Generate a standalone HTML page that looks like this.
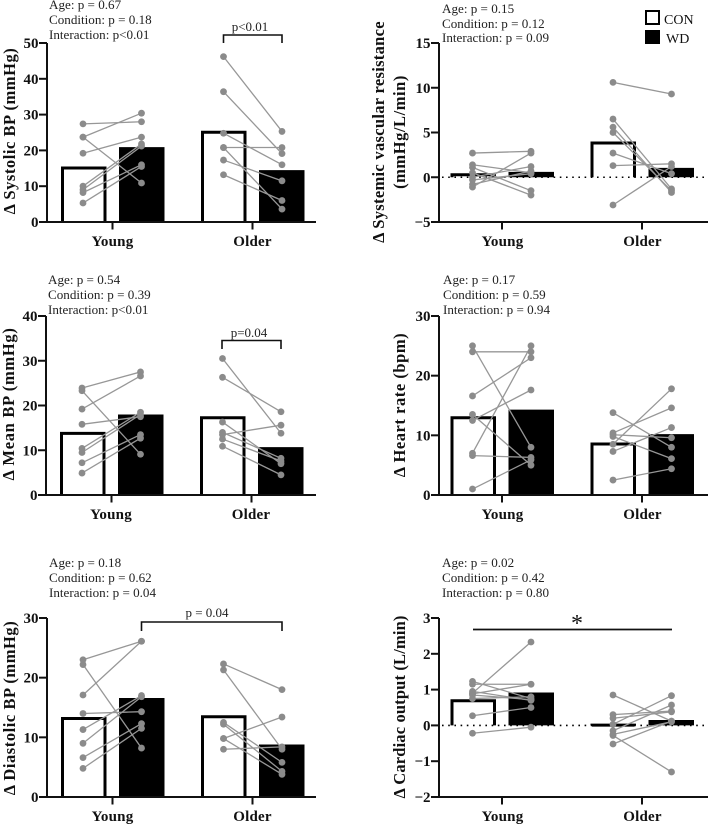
<!DOCTYPE html>
<html lang="en">
<head>
<meta charset="utf-8">
<title>Change in haemodynamics by age and condition</title>
<style>
html,body{margin:0;padding:0;background:#fff;}
svg{display:block;filter:blur(.3px);}
text{font-family:"Liberation Serif",serif;fill:#111;}
.note{font-size:13.1px;fill:#222;}
.ytitle{font-size:16.5px;font-weight:bold;text-anchor:middle;letter-spacing:.55px;}
.group{font-size:15px;font-weight:bold;text-anchor:middle;letter-spacing:.2px;}
.tick{font-size:15px;font-weight:bold;text-anchor:end;}
.sig{font-size:13px;text-anchor:middle;fill:#222;}
</style>
</head>
<body>
<svg id="figure" xmlns="http://www.w3.org/2000/svg" width="709" height="824" viewBox="0 0 709 824">
  <rect width="709" height="824" fill="#fff"/>

  <g id="panel-sbp">
    <text class="note" x="49" y="9">Age: p = 0.67</text>
    <text class="note" x="49" y="24">Condition: p = 0.18</text>
    <text class="note" x="49" y="39">Interaction: p&lt;0.01</text>
    <text class="ytitle" transform="translate(15,131) rotate(-90)">Δ Systolic BP (mmHg)</text>
    <text class="group" x="112.5" y="246">Young</text>
    <text class="group" x="252.5" y="246">Older</text>
    <path d="M223.5 43V35H282V43" fill="none" stroke="#111" stroke-width="1.6"/>
    <text class="sig" x="250" y="31">p&lt;0.01</text>
  </g>

  <g id="panel-svr">
    <text class="note" x="442" y="13">Age: p = 0.15</text>
    <text class="note" x="442" y="28">Condition: p = 0.12</text>
    <text class="note" x="442" y="42">Interaction: p = 0.09</text>
    <text class="ytitle" style="letter-spacing:.3px" transform="translate(384,132) rotate(-90)">Δ Systemic vascular resistance</text>
    <text class="ytitle" transform="translate(405,132) rotate(-90)">(mmHg/L/min)</text>
    <text class="group" x="502.5" y="246">Young</text>
    <text class="group" x="642.5" y="246">Older</text>
    <g>
      <rect x="646" y="11" width="13" height="13" fill="#fff" stroke="#000" stroke-width="2"/>
      <text x="664" y="24" font-size="14">CON</text>
      <rect x="645" y="30" width="15" height="14" fill="#000"/>
      <text x="666" y="43" font-size="14">WD</text>
    </g>
  </g>

  <g id="panel-map">
    <text class="note" x="48" y="284">Age: p = 0.54</text>
    <text class="note" x="48" y="299">Condition: p = 0.39</text>
    <text class="note" x="48" y="314">Interaction: p&lt;0.01</text>
    <text class="ytitle" style="letter-spacing:.7px" transform="translate(14,404) rotate(-90)">Δ Mean BP (mmHg)</text>
    <text class="group" x="111" y="519">Young</text>
    <text class="group" x="251" y="519">Older</text>
    <path d="M222 349V340.500H281V349" fill="none" stroke="#111" stroke-width="1.6"/>
    <text class="sig" x="249" y="337">p=0.04</text>
  </g>

  <g id="panel-hr">
    <text class="note" x="443" y="284">Age: p = 0.17</text>
    <text class="note" x="443" y="299">Condition: p = 0.59</text>
    <text class="note" x="443" y="314">Interaction: p = 0.94</text>
    <text class="ytitle" transform="translate(405,405) rotate(-90)">Δ Heart rate (bpm)</text>
    <text class="group" x="502.5" y="519">Young</text>
    <text class="group" x="642.5" y="519">Older</text>
  </g>

  <g id="panel-dbp">
    <text class="note" x="49" y="567">Age: p = 0.18</text>
    <text class="note" x="49" y="582">Condition: p = 0.62</text>
    <text class="note" x="49" y="597">Interaction: p = 0.04</text>
    <text class="ytitle" transform="translate(15,708) rotate(-90)">Δ Diastolic BP (mmHg)</text>
    <text class="group" x="112.5" y="821">Young</text>
    <text class="group" x="252.5" y="821">Older</text>
    <path d="M141.500 631V622H282V631" fill="none" stroke="#111" stroke-width="1.6"/>
    <text class="sig" x="207" y="617">p = 0.04</text>
  </g>

  <g id="panel-co">
    <text class="note" x="442" y="567">Age: p = 0.02</text>
    <text class="note" x="442" y="582">Condition: p = 0.42</text>
    <text class="note" x="442" y="597">Interaction: p = 0.80</text>
    <text class="ytitle" style="letter-spacing:.15px" transform="translate(405,707) rotate(-90)">Δ Cardiac output (L/min)</text>
    <text class="group" x="502.5" y="821">Young</text>
    <text class="group" x="642.5" y="821">Older</text>
    <path d="M473 629.500H672" fill="none" stroke="#111" stroke-width="1.8"/>
    <text x="577" y="631" font-size="24" text-anchor="middle">*</text>
  </g>
</svg>

<script>
/* Bar means: young CON, young WD, older CON, older WD */
const sbpBars = [15.5, 20.9, 25.5, 14.5];
const svrBars = [0.45, 0.6, 4.0, 1.05];
const mapBars = [14.1, 18.0, 17.6, 10.7];
const hrBars = [13.2, 14.3, 8.8, 10.2];
const dbpBars = [13.4, 16.6, 13.7, 8.8];
const coBars = [0.73, 0.92, 0.05, 0.15];

/* Individual paired responses */
const sbpYoungCon = [27.4, 23.7, 23.7, 19.2, 10.0, 9.0, 8.2, 5.3];
const sbpYoungWd = [28.0, 30.4, 10.9, 23.7, 21.8, 21.2, 16.0, 15.5];
const sbpOlderCon = [46.2, 36.4, 24.8, 20.8, 20.8, 17.3, 13.2];
const sbpOlderWd = [25.3, 19.1, 16.0, 20.8, 3.6, 11.5, 6.0];

const svrYoungCon = [2.7, 1.4, 1.1, 0.5, 0.0, -0.3, -0.8, -1.1];
const svrYoungWd = [2.9, 0.5, -1.5, -2.0, 1.2, 0.4, 0.7, 2.7];
const svrOlderCon = [10.6, 6.5, 5.6, 5.0, 2.7, 1.3, -3.1];
const svrOlderWd = [9.3, -1.3, -1.7, -1.5, 0.4, 1.5, 1.2];

const mapYoungCon = [23.9, 23.3, 19.2, 15.8, 10.4, 9.5, 7.2, 4.9];
const mapYoungWd = [27.5, 9.1, 26.6, 17.5, 18.5, 18.0, 13.5, 12.7];
const mapOlderCon = [30.5, 26.3, 16.3, 14.0, 13.5, 12.5, 10.9];
const mapOlderWd = [13.8, 18.6, 7.0, 8.2, 15.6, 7.6, 4.5];

const hrYoungCon = [25.0, 24.0, 16.6, 13.5, 12.5, 7.0, 6.6, 1.0];
const hrYoungWd = [8.0, 24.0, 23.0, 5.0, 17.6, 25.0, 6.3, 5.9];
const hrOlderCon = [13.8, 10.4, 10.1, 9.8, 8.5, 7.3, 2.5];
const hrOlderWd = [8.0, 14.6, 9.6, 6.1, 17.8, 11.3, 4.4];

const dbpYoungCon = [23.0, 22.2, 17.1, 14.0, 11.3, 9.0, 6.6, 4.8];
const dbpYoungWd = [26.1, 8.2, 26.1, 14.3, 17.0, 16.8, 12.3, 11.5];
const dbpOlderCon = [22.3, 21.3, 12.5, 12.2, 9.8, 9.8, 8.0];
const dbpOlderWd = [18.0, 8.0, 5.8, 4.3, 13.4, 3.8, 8.4];

const coYoungCon = [1.23, 1.15, 0.95, 0.9, 0.88, 0.85, 0.75, 0.27, -0.22];
const coYoungWd = [0.75, 1.15, 0.7, 2.33, 1.15, 0.72, 0.8, 0.5, -0.05];
const coOlderCon = [0.85, 0.3, 0.2, 0.03, -0.15, -0.25, -0.28, -0.52];
const coOlderWd = [0.12, 0.4, 0.38, 0.83, 0.57, 0.1, -1.3, 0.12];

/* Axis ticks */
const sbpTicks = [0, 10, 20, 30, 40, 50];
const svrTicks = [-5, 0, 5, 10, 15];
const mapTicks = [0, 10, 20, 30, 40];
const hrTicks = [0, 10, 20, 30];
const dbpTicks = [0, 10, 20, 30];
const coTicks = [-2, -1, 0, 1, 2, 3];

const NS = 'http://www.w3.org/2000/svg';

function make(parent, tag, attrs) {
  const el = document.createElementNS(NS, tag);
  for (const k in attrs) el.setAttribute(k, attrs[k]);
  parent.appendChild(el);
  return el;
}

function drawPanel(id, layout, ticks, bars, yc, yw, oc, ow) {
  const root = document.getElementById(id);
  const yMin = ticks[0];
  const yMax = ticks[ticks.length - 1];
  const y = v => layout.bottom + (v - yMin) / (yMax - yMin) * (layout.top - layout.bottom);
  const zero = y(0);
  const ax = layout.axisX;
  const ox = layout.originX;
  const g = make(root, 'g', {});
  
  

  const barX = [ox + 14, ox + 72, ox + 154, ox + 212];
  const barW = 45.5;
  bars.forEach((v, i) => {
    const top = Math.min(y(v), zero);
    const isCon = i % 2 === 0;
    const r = make(g, 'path', isCon
      ? { d: 'M' + (barX[i] + 1.5) + ' ' + zero + 'V' + (top + 1.5) + 'H' + (barX[i] + barW - 1.5) + 'V' + zero,
          fill: '#fff', stroke: '#000', 'stroke-width': 3 }
      : { d: 'M' + barX[i] + ' ' + zero + 'V' + top + 'H' + (barX[i] + barW) + 'V' + zero + 'Z', fill: '#000' });
    
    
  });

  if (yMin < 0) {
    const dots = make(g, 'line', { x1: ax + 3, x2: 708, y1: zero, y2: zero, stroke: '#000',
      'stroke-width': 1.6, 'stroke-dasharray': '1.6 4.6' });
    
    
  }

  const axisLine = make(g, 'path', { d: 'M' + ax + ' ' + layout.top + 'V' + (layout.bottom + 1) + 'M' + ax + ' ' + layout.bottom + 'H' + layout.right,
    fill: 'none', stroke: '#111', 'stroke-width': 2 });
  
  

  ticks.forEach(t => {
    const mark = make(g, 'line', { x1: ax - 8, x2: ax, y1: y(t), y2: y(t), stroke: '#111', 'stroke-width': 2 });
    
    
    const lab = make(g, 'text', { class: 'tick', x: ax - 8.5, y: y(t) + 5 });
    
    
    lab.textContent = String(t).replace('-', '\u2212');
  });

  [ox + 65.5, ox + 205.5].forEach(tx => {
    const mark = make(g, 'line', { x1: tx, x2: tx, y1: layout.bottom, y2: layout.bottom + 7.5, stroke: '#111', 'stroke-width': 2 });
    
    
  });

  const pointX = [ox + 36, ox + 94.5, ox + 176.5, ox + 235];
  const groups = [[yc, yw, pointX[0], pointX[1], 'young'], [oc, ow, pointX[2], pointX[3], 'older']];
  groups.forEach(p => {
    p[0].forEach((v, i) => {
      const l = make(g, 'line', { x1: p[2], x2: p[3], y1: y(v), y2: y(p[1][i]), stroke: '#979797', 'stroke-width': 1.3 });
      
      
    });
  });
  groups.forEach(p => {
    p[0].forEach((v, i) => {
      const a = make(g, 'circle', { cx: p[2], cy: y(v), r: 3.4, fill: '#8b8b8b' });
      
      
      const b = make(g, 'circle', { cx: p[3], cy: y(p[1][i]), r: 3.4, fill: '#8b8b8b' });
      
      
    });
  });
}

drawPanel('panel-sbp', { axisX: 47, originX: 47, top: 43, bottom: 222, right: 316 }, sbpTicks, sbpBars, sbpYoungCon, sbpYoungWd, sbpOlderCon, sbpOlderWd);
drawPanel('panel-svr', { axisX: 439, originX: 436.5, top: 43, bottom: 222, right: 708 }, svrTicks, svrBars, svrYoungCon, svrYoungWd, svrOlderCon, svrOlderWd);
drawPanel('panel-map', { axisX: 46, originX: 46, top: 316, bottom: 495, right: 316 }, mapTicks, mapBars, mapYoungCon, mapYoungWd, mapOlderCon, mapOlderWd);
drawPanel('panel-hr', { axisX: 439, originX: 436.5, top: 316, bottom: 495, right: 708 }, hrTicks, hrBars, hrYoungCon, hrYoungWd, hrOlderCon, hrOlderWd);
drawPanel('panel-dbp', { axisX: 47, originX: 47, top: 618, bottom: 797, right: 316 }, dbpTicks, dbpBars, dbpYoungCon, dbpYoungWd, dbpOlderCon, dbpOlderWd);
drawPanel('panel-co', { axisX: 439, originX: 436.5, top: 618, bottom: 797, right: 708 }, coTicks, coBars, coYoungCon, coYoungWd, coOlderCon, coOlderWd);
</script>
</body>
</html>
